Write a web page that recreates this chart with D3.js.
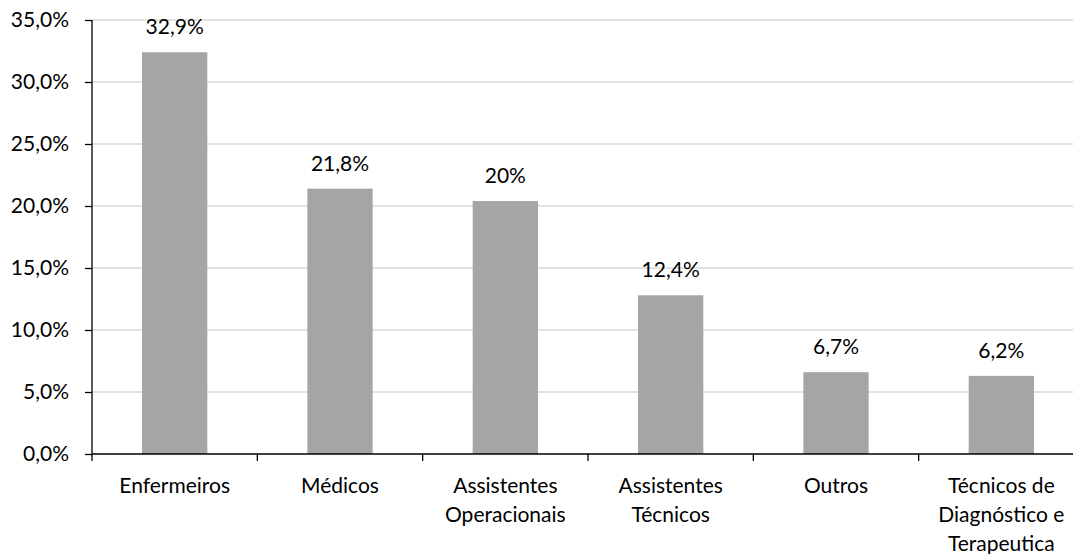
<!DOCTYPE html>
<html>
<head>
<meta charset="utf-8">
<script src="https://cdn.jsdelivr.net/npm/d3@7"></script>
<style>
  body { margin: 0; background: #fff; }
  svg { display: block; font-family: Lato, "Open Sans", sans-serif; }
</style>
</head>
<body>
<svg id="chart"></svg>
<script>
const width = 1073;
const height = 554;

// categorias (uma linha por elemento)
const categories = ["Enfermeiros", "Médicos", "Assistentes Operacionais", "Assistentes Técnicos", "Outros", "Técnicos de Diagnóstico e Terapeutica"];
const categoryLines = [["Enfermeiros"], ["Médicos"], ["Assistentes", "Operacionais"], ["Assistentes", "Técnicos"], ["Outros"], ["Técnicos de", "Diagnóstico e", "Terapeutica"]];
// altura das barras (%) e rótulos tal como aparecem
const values = [32.4, 21.4, 20.4, 12.8, 6.6, 6.3];
const valueLabels = ["32,9%", "21,8%", "20%", "12,4%", "6,7%", "6,2%"];
const yTicks = [0, 5, 10, 15, 20, 25, 30, 35];

const margin = {top: 20, left: 92, bottom: 100};
const plotRight = 1084; // o eixo continua para fora da janela
const fontSize = 21;

const svg = d3.select("#chart").attr("width", width).attr("height", height);

const x = d3.scaleBand().domain(categories).range([margin.left, plotRight]).padding(0);
const y = d3.scaleLinear().domain([0, 35]).range([height - margin.bottom, margin.top]);

// linhas de grelha
svg.append("g")
  .selectAll("line")
  .data(yTicks.filter(d => d > 0))
  .enter().append("line")
  .attr("x1", margin.left).attr("x2", width)
  .attr("y1", d => y(d)).attr("y2", d => y(d))
  .attr("stroke", "#d9d9d9")
  .attr("stroke-width", 1.5);

// barras
const barW = x.bandwidth() * 0.395;
svg.append("g")
  .selectAll("rect")
  .data(values)
  .enter().append("rect")
  .attr("x", (d, i) => x(categories[i]) + (x.bandwidth() - barW) / 2)
  .attr("y", d => y(d))
  .attr("width", barW)
  .attr("height", d => y(0) - y(d))
  .attr("fill", "#a5a5a5");

// rótulos dos valores
svg.append("g")
  .selectAll("text")
  .data(values)
  .enter().append("text")
  .attr("x", (d, i) => x(categories[i]) + x.bandwidth() / 2)
  .attr("y", d => y(d) - 18)
  .attr("text-anchor", "middle")
  .attr("font-size", fontSize)
  .attr("fill", "#000")
  .text((d, i) => valueLabels[i]);

// eixo y
const yAxis = svg.append("g")
  .attr("transform", `translate(${margin.left},0)`)
  .call(d3.axisLeft(y).tickValues(yTicks).tickSize(7).tickPadding(16)
    .tickFormat(d => d.toFixed(1).replace(".", ",") + "%"));
yAxis.select(".domain").attr("stroke", "#000").attr("stroke-width", 1.3).attr("d", `M0,${y(35)}V${y(0)}`);
yAxis.selectAll(".tick line").attr("stroke", "#000").attr("stroke-width", 1.3);
yAxis.selectAll(".tick text").attr("font-size", fontSize).attr("font-family", "Lato").attr("fill", "#000");

// eixo x
const xAxis = svg.append("g")
  .attr("transform", `translate(0,${y(0)})`);
xAxis.append("line")
  .attr("x1", margin.left).attr("x2", width)
  .attr("y1", 0).attr("y2", 0)
  .attr("stroke", "#000").attr("stroke-width", 1.3);
xAxis.selectAll(".xtick")
  .data(categories.concat([null]))
  .enter().append("line")
  .attr("x1", (d, i) => margin.left + i * x.step())
  .attr("x2", (d, i) => margin.left + i * x.step())
  .attr("y1", 0).attr("y2", 7)
  .attr("stroke", "#000").attr("stroke-width", 1.3);

const xl = xAxis.selectAll(".xlabel")
  .data(categories)
  .enter().append("text")
  .attr("text-anchor", "middle")
  .attr("font-size", fontSize)
  .attr("fill", "#000")
  .attr("transform", d => `translate(${x(d) + x.bandwidth() / 2},39)`);
xl.selectAll("tspan")
  .data((d, i) => categoryLines[i])
  .enter().append("tspan")
  .attr("x", 0)
  .attr("y", (d, j) => j * 29)
  .text(d => d);
</script>
</body>
</html>
